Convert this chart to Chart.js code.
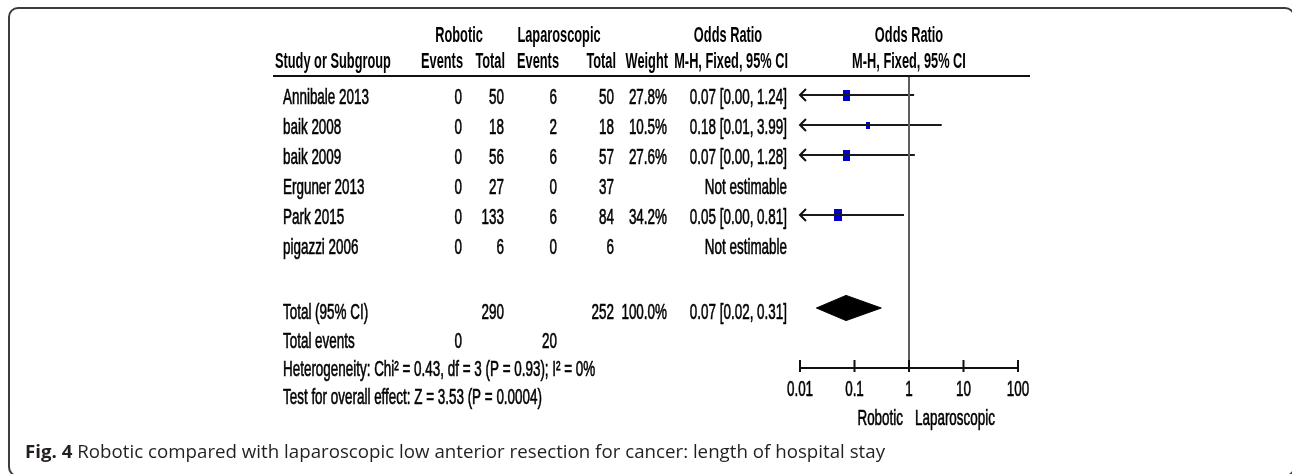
<!DOCTYPE html>
<html>
<head>
<meta charset="utf-8">
<script src="https://cdn.jsdelivr.net/npm/chart.js@4/dist/chart.umd.min.js"></script>
<style>
  html, body { margin: 0; padding: 0; background: #fff; }
  canvas { display: block; }
</style>
</head>
<body>
<canvas id="forest" width="1292" height="474"></canvas>
<script>
// Study-level data
const studies        = ['Annibale 2013', 'baik 2008', 'baik 2009', 'Erguner 2013', 'Park 2015', 'pigazzi 2006'];
const roboticEvents  = [0, 0, 0, 0, 0, 0];
const roboticTotal   = [50, 18, 56, 27, 133, 6];
const laparoEvents   = [6, 2, 6, 0, 6, 0];
const laparoTotal    = [50, 18, 57, 37, 84, 6];
const weights        = [27.8, 10.5, 27.6, null, 34.2, null];
const oddsRatio      = [0.07, 0.18, 0.07, null, 0.05, null];
const ciLower        = [0.00, 0.01, 0.00, null, 0.00, null];
const ciUpper        = [1.24, 3.99, 1.28, null, 0.81, null];

// Pooled result
const pooledOR    = 0.07;
const pooledLower = 0.02;
const pooledUpper = 0.31;
const pooledTotals      = [290, 252];
const pooledEvents      = [0, 20];
const pooledWeightLabel = '100.0%';
const heterogeneityText = 'Heterogeneity: Chi\u00B2 = 0.43, df = 3 (P = 0.93); I\u00B2 = 0%';
const overallEffectText = 'Test for overall effect: Z = 3.53 (P = 0.0004)';

// Axis
const axisTicks    = [0.01, 0.1, 1, 10, 100];
const tickLabels   = ['0.01', '0.1', '1', '10', '100'];
const favourLabels = ['Robotic', 'Laparoscopic'];

const captionBold = 'Fig. 4';
const captionText = ' Robotic compared with laparoscopic low anterior resection for cancer: length of hospital stay';

// ---- layout ----
const W = 1292, H = 474;
const PLOT_LEFT = 800, PLOT_RIGHT = 1018, PLOT_TOP = 76, PLOT_BOTTOM = 368;
const ROW0 = 95, ROW_STEP = 30;           // pixel row of first study, row spacing
const TOTAL_ROW = 7.1;                    // pooled row (in row units)
const DIAMOND_HALF = 0.42;                // diamond half height (row units)
const TEXT_DY = 3;
const Y_MIN = (PLOT_TOP - ROW0) / ROW_STEP;
const Y_MAX = (PLOT_BOTTOM - ROW0) / ROW_STEP;

const SX = 0.84, SY = 1.35, SX_HEAD = 0.80;
const FONT = '"Liberation Sans", Arial, Helvetica, sans-serif';
const INK = '#000';

function txt(ctx, s, x, y, align, bold) {
  ctx.save();
  ctx.translate(x, y);
  ctx.scale(bold ? SX_HEAD : SX, SY);
  ctx.font = (bold ? 'bold ' : '') + '16px ' + FONT;
  ctx.textAlign = align || 'left';
  ctx.textBaseline = 'middle';
  ctx.fillStyle = INK;
  ctx.fillText(s, 0, 0);
  if (!bold) {
    ctx.strokeStyle = INK;
    ctx.lineWidth = 0.45;
    ctx.strokeText(s, 0, 0);
  }
  ctx.restore();
}

function boxImage(w, h, color) {
  const c = document.createElement('canvas');
  c.width = w; c.height = h;
  const g = c.getContext('2d');
  g.fillStyle = color;
  g.fillRect(0, 0, w, h);
  return c;
}

// ---- datasets ----
const xMin = axisTicks[0], xMax = axisTicks[axisTicks.length - 1];
const datasets = [];

// line of no effect
datasets.push({
  data: [{ x: 1, y: Y_MIN }, { x: 1, y: Y_MAX }],
  showLine: true, borderColor: '#5e5e5e', borderWidth: 2, pointRadius: 0
});

// confidence intervals
studies.forEach((s, i) => {
  if (oddsRatio[i] == null) return;
  datasets.push({
    data: [{ x: Math.max(ciLower[i], xMin), y: i }, { x: ciUpper[i], y: i }],
    showLine: true, borderColor: '#1a1a1a', borderWidth: 2, pointRadius: 0
  });
});

// weighted boxes
const boxPts = [], boxStyles = [];
studies.forEach((s, i) => {
  if (oddsRatio[i] == null) return;
  const r = Math.sqrt(weights[i]);
  boxPts.push({ x: oddsRatio[i], y: i });
  boxStyles.push(boxImage(Math.round(1.35 * r), Math.round(2.1 * r), '#0000c8'));
});
datasets.push({
  data: boxPts, pointStyle: boxStyles, pointRadius: 5, showLine: false,
  backgroundColor: '#0000c8', borderWidth: 0
});

// pooled diamond
datasets.push({
  type: 'line',
  data: [
    { x: pooledLower, y: TOTAL_ROW },
    { x: pooledOR, y: TOTAL_ROW - DIAMOND_HALF },
    { x: pooledUpper, y: TOTAL_ROW },
    { x: pooledOR, y: TOTAL_ROW + DIAMOND_HALF },
    { x: pooledLower, y: TOTAL_ROW }
  ],
  fill: 'shape', backgroundColor: '#000', borderColor: '#000', borderWidth: 1,
  pointRadius: 0, tension: 0
});

// ---- drawing of frame, table text and axis ----
const forestTable = {
  id: 'forestTable',
  beforeDraw(chart) {
    const ctx = chart.ctx;
    // rounded figure frame
    const x0 = 9, y0 = 8, x1 = W + 2, y1 = H + 2, r = 9;
    ctx.save();
    ctx.beginPath();
    ctx.moveTo(x0 + r, y0);
    ctx.lineTo(x1 - r, y0);
    ctx.arcTo(x1, y0, x1, y0 + r, r);
    ctx.lineTo(x1, y1 - r);
    ctx.arcTo(x1, y1, x1 - r, y1, r);
    ctx.lineTo(x0 + r, y1);
    ctx.arcTo(x0, y1, x0, y1 - r, r);
    ctx.lineTo(x0, y0 + r);
    ctx.arcTo(x0, y0, x0 + r, y0, r);
    ctx.closePath();
    ctx.strokeStyle = '#3c3c3c';
    ctx.lineWidth = 2;
    ctx.stroke();
    ctx.restore();
  },
  afterDraw(chart) {
    const ctx = chart.ctx;
    const xs = chart.scales.x, ys = chart.scales.y, ca = chart.chartArea;
    const plotMid = (ca.left + ca.right) / 2;

    // header rule
    ctx.save();
    ctx.strokeStyle = '#111';
    ctx.fillStyle = '#111';
    ctx.lineWidth = 2;
    ctx.beginPath();
    ctx.moveTo(273, ca.top);
    ctx.lineTo(1030, ca.top);
    ctx.stroke();

    // arrows where the lower limit runs off the scale
    studies.forEach((s, i) => {
      if (oddsRatio[i] == null || ciLower[i] > xMin) return;
      const px = xs.getPixelForValue(xMin), py = ys.getPixelForValue(i);
      ctx.beginPath();
      ctx.moveTo(px + 6, py - 6);
      ctx.lineTo(px, py);
      ctx.lineTo(px + 6, py + 6);
      ctx.lineWidth = 2;
      ctx.stroke();
    });

    // x axis
    ctx.beginPath();
    ctx.moveTo(xs.getPixelForValue(xMin), ca.bottom);
    ctx.lineTo(xs.getPixelForValue(xMax), ca.bottom);
    axisTicks.forEach(v => {
      const px = xs.getPixelForValue(v);
      ctx.moveTo(px, ca.bottom - 8);
      ctx.lineTo(px, ca.bottom + 4);
    });
    ctx.lineWidth = 2;
    ctx.stroke();
    ctx.restore();

    axisTicks.forEach((v, k) => txt(ctx, tickLabels[k], xs.getPixelForValue(v), ca.bottom + 22, 'center'));
    const onePx = xs.getPixelForValue(1);
    txt(ctx, favourLabels[0], onePx - 6, ca.bottom + 51, 'right');
    txt(ctx, favourLabels[1], onePx + 6, ca.bottom + 51, 'left');

    // column headers
    const h1 = 36, h2 = 62;
    txt(ctx, 'Robotic', 459, h1, 'center', true);
    txt(ctx, 'Laparoscopic', 559, h1, 'center', true);
    txt(ctx, 'Odds Ratio', 728, h1, 'center', true);
    txt(ctx, 'Odds Ratio', plotMid, h1, 'center', true);
    txt(ctx, 'Study or Subgroup', 275, h2, 'left', true);
    txt(ctx, 'Events', 463, h2, 'right', true);
    txt(ctx, 'Total', 505, h2, 'right', true);
    txt(ctx, 'Events', 559, h2, 'right', true);
    txt(ctx, 'Total', 616, h2, 'right', true);
    txt(ctx, 'Weight', 668, h2, 'right', true);
    txt(ctx, 'M-H, Fixed, 95% CI', 788, h2, 'right', true);
    txt(ctx, 'M-H, Fixed, 95% CI', plotMid, h2, 'center', true);

    // study rows
    const cols = [462, 504, 557, 614, 667, 787];
    studies.forEach((s, i) => {
      const y = ys.getPixelForValue(i) + TEXT_DY;
      txt(ctx, s, 283, y, 'left');
      txt(ctx, String(roboticEvents[i]), cols[0], y, 'right');
      txt(ctx, String(roboticTotal[i]), cols[1], y, 'right');
      txt(ctx, String(laparoEvents[i]), cols[2], y, 'right');
      txt(ctx, String(laparoTotal[i]), cols[3], y, 'right');
      if (weights[i] != null) txt(ctx, weights[i].toFixed(1) + '%', cols[4], y, 'right');
      const est = oddsRatio[i] == null ? 'Not estimable'
        : oddsRatio[i].toFixed(2) + ' [' + ciLower[i].toFixed(2) + ', ' + ciUpper[i].toFixed(2) + ']';
      txt(ctx, est, cols[5], y, 'right');
    });

    // pooled rows
    const ty = ys.getPixelForValue(TOTAL_ROW) + 5;
    txt(ctx, 'Total (95% CI)', 283, ty, 'left');
    txt(ctx, String(pooledTotals[0]), cols[1], ty, 'right');
    txt(ctx, String(pooledTotals[1]), cols[3], ty, 'right');
    txt(ctx, pooledWeightLabel, cols[4], ty, 'right');
    txt(ctx, pooledOR.toFixed(2) + ' [' + pooledLower.toFixed(2) + ', ' + pooledUpper.toFixed(2) + ']', cols[5], ty, 'right');
    txt(ctx, 'Total events', 283, ty + 29, 'left');
    txt(ctx, String(pooledEvents[0]), cols[0], ty + 29, 'right');
    txt(ctx, String(pooledEvents[1]), cols[2], ty + 29, 'right');
    txt(ctx, heterogeneityText, 283, ty + 57, 'left');
    txt(ctx, overallEffectText, 283, ty + 85, 'left');

    // caption
    ctx.save();
    const capFont = '"Open Sans", "Noto Sans", sans-serif';
    ctx.font = 'bold 18px ' + capFont;
    const wb = ctx.measureText(captionBold).width;
    ctx.font = '18px ' + capFont;
    const wr = ctx.measureText(captionText).width;
    const k = (885 - 25) / (wb + wr);
    ctx.translate(25, 453);
    ctx.scale(k, 1);
    ctx.textBaseline = 'middle';
    ctx.fillStyle = '#231f20';
    ctx.font = 'bold 18px ' + capFont;
    ctx.fillText(captionBold, 0, 0);
    ctx.font = '18px ' + capFont;
    ctx.fillText(captionText, wb, 0);
    ctx.restore();
  }
};

new Chart(document.getElementById('forest'), {
  type: 'scatter',
  data: { datasets },
  options: {
    responsive: false,
    animation: false,
    devicePixelRatio: 1,
    layout: { padding: { left: PLOT_LEFT, right: W - PLOT_RIGHT, top: PLOT_TOP, bottom: H - PLOT_BOTTOM } },
    plugins: { legend: { display: false }, tooltip: { enabled: false } },
    scales: {
      x: { type: 'logarithmic', min: xMin, max: xMax, display: false },
      y: { type: 'linear', min: Y_MIN, max: Y_MAX, reverse: true, display: false }
    }
  },
  plugins: [forestTable]
});
</script>
</body>
</html>
